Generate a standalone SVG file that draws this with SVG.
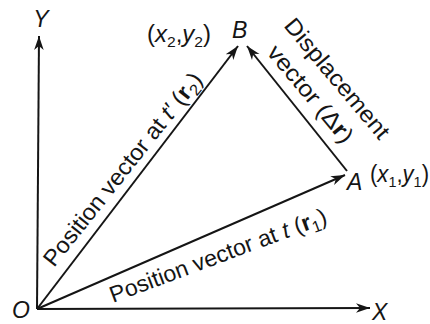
<svg xmlns="http://www.w3.org/2000/svg" width="430" height="324" viewBox="0 0 430 324">
<style>
.ln{stroke:#151515;stroke-width:2;fill:none}
.t{font-family:"Liberation Sans",Arial,sans-serif;font-size:23px;fill:#151515}
.it{font-style:italic}
.b{font-weight:bold}
</style>
<defs>
<marker id="ah" markerUnits="userSpaceOnUse" markerWidth="16" markerHeight="12" viewBox="-14 -6 16 12" refX="0" refY="0" orient="auto">
<path d="M0,0 L-14,-4.8 L-10,0 L-14,4.8 Z" fill="#151515"/>
</marker>
</defs>
<rect width="430" height="324" fill="#ffffff"/>
<g id="connectors">
<line id="y-axis" class="ln" x1="37" y1="309" x2="39" y2="36" marker-end="url(#ah)"/>
<line id="x-axis" class="ln" x1="37" y1="309" x2="370" y2="308" marker-end="url(#ah)"/>
<line id="r2" class="ln" x1="37" y1="309" x2="238" y2="46" marker-end="url(#ah)"/>
<line id="r1" class="ln" x1="37" y1="309" x2="345" y2="175" marker-end="url(#ah)"/>
<line id="dr" class="ln" x1="347" y1="171" x2="247" y2="46" marker-end="url(#ah)"/>
</g>
<g id="node-O"><text class="t it" x="12" y="318" font-size="27">O</text></g>
<g id="node-X"><text class="t it" x="372" y="320" font-size="27">X</text></g>
<g id="node-Y"><text class="t it" x="41" y="27" text-anchor="middle">Y</text></g>
<g id="node-B"><text class="t it" x="232" y="38" font-size="22">B</text>
<text class="t" x="147" y="42" textLength="64" lengthAdjust="spacingAndGlyphs">(<tspan class="it">x</tspan><tspan font-size="15" dy="5">2</tspan><tspan dy="-5">,</tspan><tspan class="it">y</tspan><tspan font-size="15" dy="5">2</tspan><tspan dy="-5">)</tspan></text></g>
<g id="node-A"><text class="t it" x="347" y="190" font-size="22">A</text>
<text class="t" x="370" y="182" textLength="59" lengthAdjust="spacingAndGlyphs">(<tspan class="it">x</tspan><tspan font-size="15" dy="5">1</tspan><tspan dy="-5">,</tspan><tspan class="it">y</tspan><tspan font-size="15" dy="5">1</tspan><tspan dy="-5">)</tspan></text></g>
<g id="label-r2"><text class="t" font-size="25" transform="translate(54,268) rotate(-51.5)" textLength="240" lengthAdjust="spacingAndGlyphs">Position vector at <tspan class="it">t′</tspan> (<tspan class="b">r</tspan><tspan font-size="16" dy="5">2</tspan><tspan dy="-5">)</tspan></text></g>
<g id="label-r1"><text class="t" font-size="25" transform="translate(113,303) rotate(-20.5)" textLength="230" lengthAdjust="spacingAndGlyphs">Position vector at <tspan class="it">t</tspan> (<tspan class="b">r</tspan><tspan font-size="16" dy="5">1</tspan><tspan dy="-5">)</tspan></text></g>
<g id="label-dr"><text class="t" font-size="25" transform="translate(283,26) rotate(50)" textLength="150" lengthAdjust="spacingAndGlyphs">Displacement</text>
<text class="t" font-size="25" transform="translate(266,53) rotate(50)" textLength="120" lengthAdjust="spacingAndGlyphs">vector  (Δ<tspan class="b">r</tspan>)</text></g>
</svg>
